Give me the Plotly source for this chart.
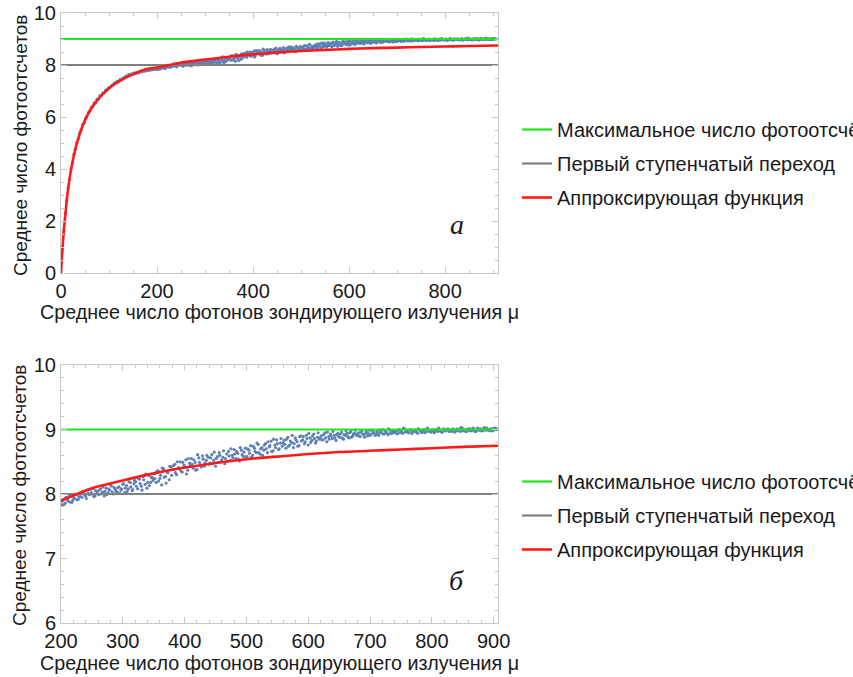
import plotly.graph_objects as go

W, H = 853, 677

# ---------------- data ----------------
# measured points: x (mean photon number mu), y in hundredths of counts
mu_low = list(range(3, 199, 3))
cnt_low = [95, 162, 231, 279, 328, 361, 401, 425, 457, 476, 502, 515, 539, 550, 569, 577, 595, 601,
           617, 621, 636, 640, 653, 656, 668, 670, 681, 683, 692, 694, 703, 704, 712, 713, 721, 723,
           730, 731, 737, 738, 744, 743, 750, 751, 757, 755, 763, 760, 766, 764, 770, 767, 772, 770,
           775, 773, 777, 776, 779, 778, 781, 780, 783, 782, 786, 784]

mu_a = list(range(201, 907, 3))
cnt_a = [783, 791, 786, 794, 788, 797, 790, 793, 799, 792,
         801, 795, 803, 797, 806, 799, 802, 808, 797, 804,
         799, 808, 803, 797, 809, 802, 806, 812, 800, 807,
         803, 811, 806, 815, 802, 813, 808, 818, 805, 816,
         819, 808, 823, 812, 827, 815, 809, 829, 818, 825,
         831, 818, 836, 824, 814, 839, 827, 834, 822, 842,
         838, 846, 830, 841, 850, 834, 845, 853, 837, 848,
         855, 840, 849, 838, 856, 845, 859, 843, 852, 857,
         848, 861, 852, 843, 858, 864, 850, 857, 847, 862,
         866, 852, 860, 869, 855, 863, 851, 868, 858, 871,
         858, 868, 875, 860, 871, 864, 877, 862, 872, 868,
         878, 864, 873, 882, 867, 876, 884, 869, 879, 874,
         883, 871, 888, 876, 880, 872, 887, 881, 875, 890,
         884, 878, 891, 876, 887, 883, 893, 879, 888, 885,
         890, 884, 895, 881, 889, 893, 886, 891, 883, 894,
         888, 896, 885, 891, 894, 887, 897, 890, 894, 891,
         895, 889, 898, 892, 894, 890, 899, 893, 896, 891,
         897, 891, 895, 900, 893, 896, 892, 899, 894, 897,
         898, 893, 900, 896, 894, 901, 897, 895, 899, 894,
         897, 899, 894, 900, 896, 898, 895, 901, 897, 899,
         898, 895, 900, 897, 899, 896, 901, 898, 900, 897,
         899, 901, 896, 898, 900, 897, 902, 899, 897, 900,
         898, 900, 902, 897, 899, 901, 898, 900, 903, 899,
         900, 898, 901, 899, 902, 900]

mu_b = list(range(202, 905, 3))
cnt_b = [789, 784, 795, 790, 798, 787, 795, 800, 791, 796,
         796, 804, 799, 793, 801, 807, 800, 796, 805, 801,
         806, 800, 811, 804, 799, 808, 814, 803, 810, 804,
         810, 801, 808, 816, 809, 804, 819, 811, 807, 821,
         812, 824, 816, 806, 822, 831, 818, 813, 826, 821,
         824, 835, 820, 829, 840, 826, 817, 833, 843, 829,
         844, 833, 850, 839, 836, 849, 842, 831, 855, 845,
         846, 853, 837, 861, 849, 842, 854, 848, 860, 846,
         856, 847, 865, 855, 849, 860, 853, 867, 855, 851,
         859, 870, 856, 862, 866, 854, 872, 861, 865, 858,
         870, 863, 857, 874, 866, 879, 864, 870, 860, 876,
         870, 881, 875, 866, 885, 872, 878, 870, 886, 879,
         877, 885, 874, 882, 891, 878, 884, 874, 889, 882,
         889, 881, 886, 894, 880, 890, 886, 882, 895, 887,
         884, 892, 887, 896, 885, 890, 897, 887, 892, 889,
         893, 887, 892, 898, 889, 895, 888, 893, 899, 892,
         890, 896, 893, 888, 897, 894, 891, 899, 895, 892,
         894, 899, 896, 893, 898, 895, 901, 894, 897, 895,
         896, 899, 895, 898, 902, 896, 898, 895, 900, 897,
         899, 896, 901, 898, 895, 900, 897, 902, 898, 896,
         900, 897, 899, 902, 898, 896, 900, 898, 901, 899,
         897, 900, 898, 901, 899, 903, 898, 900, 897, 901,
         901, 898, 900, 897, 902, 899, 901, 898, 900, 902,
         899, 901, 898, 902, 900]

mu_pts = mu_low + mu_a + mu_b
cnt_pts = [v / 100 for v in cnt_low + cnt_a + cnt_b]

# approximating function
fit_mu = [0, 1, 2, 4, 6, 8, 10, 13, 16, 20, 25, 30, 40, 50, 60, 75, 90, 110, 130, 150, 175,
          200, 250, 300, 350, 400, 450, 500, 550, 600, 650, 700, 750, 800, 850, 910]
fit_cnt = [0, 0.33, 0.63, 1.18, 1.66, 2.03, 2.40, 2.97, 3.39, 3.88, 4.36, 4.78, 5.41, 5.88, 6.24,
           6.63, 6.94, 7.25, 7.47, 7.65, 7.83, 7.90, 8.09, 8.21, 8.32, 8.41, 8.48, 8.54, 8.58, 8.62,
           8.65, 8.67, 8.69, 8.71, 8.73, 8.75]

max_level = 9
step_level = 8
level_mu = [0, 910]

names = ["Максимальное число фотоотсчётов", "Первый ступенчатый переход", "Аппроксирующая функция"]
x_title = "Среднее число фотонов зондирующего излучения μ"
y_title = "Среднее число фотоотсчетов"

# ---------------- figure ----------------
FONT = "Liberation Sans, Arial, sans-serif"
TXT = "#1a1a1a"
FRAME = "#c8c8c8"
fig = go.Figure()

for xa, ya, leg in [("x", "y", "legend"), ("x2", "y2", "legend2")]:
    fig.add_trace(go.Scatter(x=mu_pts, y=cnt_pts, mode="markers", xaxis=xa, yaxis=ya,
                             marker=dict(color="#5E81B5", size=3.2), showlegend=False,
                             hoverinfo="skip"))
    fig.add_trace(go.Scatter(x=level_mu, y=[max_level] * 2, mode="lines", xaxis=xa, yaxis=ya,
                             line=dict(color="#1ee61e", width=2.2), name=names[0],
                             legend=leg, legendgroup="g1" + leg))
    fig.add_trace(go.Scatter(x=level_mu, y=[step_level] * 2, mode="lines", xaxis=xa, yaxis=ya,
                             line=dict(color="#808080", width=2.2), name=names[1],
                             legend=leg, legendgroup="g2" + leg))
    fig.add_trace(go.Scatter(x=fit_mu, y=fit_cnt, mode="lines", xaxis=xa, yaxis=ya,
                             line=dict(color="#ff1a1a", width=2.6, shape="spline"), name=names[2],
                             legend=leg, legendgroup="g3" + leg))


def axcommon():
    return dict(showline=True, linecolor=FRAME, linewidth=1, mirror="ticks",
                ticks="inside", ticklen=6, tickcolor=FRAME, tickwidth=1,
                showgrid=False, zeroline=False, automargin=False,
                tickfont=dict(family=FONT, size=20, color=TXT))


top = (1 - 273 / H, 1 - 13 / H)
bot = (1 - 623 / H, 1 - 365 / H)
xdom = (61 / W, 498 / W)

legfont = dict(family=FONT, size=20, color=TXT)
fig.update_layout(
    width=W, height=H, margin=dict(l=0, r=0, t=0, b=0, autoexpand=False),
    paper_bgcolor="white", plot_bgcolor="white",
    xaxis=dict(domain=xdom, range=[0, 910], anchor="y", tickvals=[0, 200, 400, 600, 800],
               minor=dict(dtick=50, ticks="inside", ticklen=3, tickcolor=FRAME), **axcommon()),
    yaxis=dict(domain=top, range=[0, 10], anchor="x", dtick=2,
               minor=dict(dtick=0.5, ticks="inside", ticklen=3, tickcolor=FRAME), **axcommon()),
    xaxis2=dict(domain=xdom, range=[200, 907], anchor="y2", dtick=100,
                minor=dict(dtick=20, ticks="inside", ticklen=3, tickcolor=FRAME), **axcommon()),
    yaxis2=dict(domain=bot, range=[6, 10], anchor="x2", dtick=1,
                minor=dict(dtick=0.2, ticks="inside", ticklen=3, tickcolor=FRAME), **axcommon()),
    legend=dict(x=517 / W, y=1 - 110 / H, xanchor="left", yanchor="top", tracegroupgap=5,
                itemwidth=30, font=legfont, bgcolor="rgba(0,0,0,0)"),
    legend2=dict(x=517 / W, y=1 - 462 / H, xanchor="left", yanchor="top", tracegroupgap=5,
                 itemwidth=30, font=legfont, bgcolor="rgba(0,0,0,0)"),
)

ann = []
for yc in (312, 663):
    ann.append(dict(text=x_title, x=38 / W, y=1 - yc / H, xref="paper", yref="paper",
                    xanchor="left", yanchor="middle", showarrow=False,
                    font=dict(family=FONT, size=19.7, color=TXT)))
for yc in (146, 496):
    ann.append(dict(text=y_title, x=20 / W, y=1 - yc / H, xref="paper", yref="paper",
                    xanchor="center", yanchor="middle", textangle=-90, showarrow=False,
                    font=dict(family=FONT, size=19, color=TXT)))
for txt, xc, yc in (("a", 457, 225), ("б", 456, 580)):
    ann.append(dict(text=txt, x=xc / W, y=1 - yc / H, xref="paper", yref="paper",
                    xanchor="center", yanchor="middle", showarrow=False,
                    font=dict(family="Liberation Serif, serif", size=28, color=TXT,
                              style="italic")))
fig.update_layout(annotations=ann)

fig.write_html("out.html")
